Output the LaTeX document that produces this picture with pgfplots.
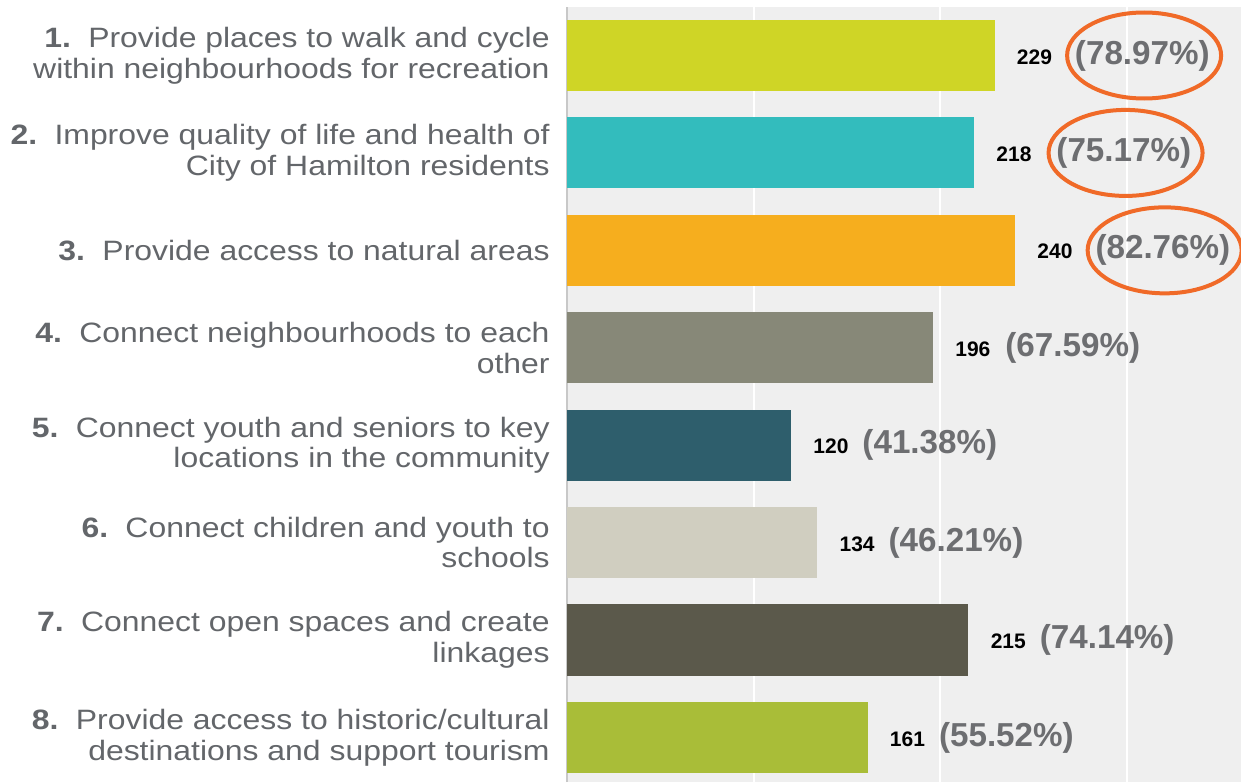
\documentclass[border=0pt]{standalone}
\usepackage{fontspec}
\setmainfont{Liberation Sans}
\newfontfamily\labfont{Liberation Sans}[FakeStretch=1.14]
\usepackage{pgfplots}
\pgfplotsset{compat=1.18}
\definecolor{bggray}{RGB}{239,239,239}
\definecolor{labelgray}{RGB}{99,102,106}
\definecolor{pctgray}{RGB}{109,110,113}
\definecolor{axisgray}{RGB}{200,200,200}
\definecolor{ring}{RGB}{240,106,40}
\definecolor{c1}{RGB}{207,213,38}
\definecolor{c2}{RGB}{51,188,189}
\definecolor{c3}{RGB}{246,174,30}
\definecolor{c4}{RGB}{135,136,120}
\definecolor{c5}{RGB}{46,94,108}
\definecolor{c6}{RGB}{208,206,192}
\definecolor{c7}{RGB}{91,89,75}
\definecolor{c8}{RGB}{169,189,56}
\newcommand{\lab}[2]{{\fontsize{10.5}{12}\selectfont\bfseries\color{black}\pgfmathprintnumber[assume math mode=true]{\pgfplotspointmeta}}\hspace{#2}{\fontsize{16.6}{18}\selectfont\bfseries\color{pctgray}(#1\%)}}
\newcommand{\num}[1]{\textbf{#1}\hspace{0.62em}}
\begin{document}
\begin{tikzpicture}
\begin{axis}[
  at={(283.5pt,0pt)}, anchor=south west,
  scale only axis, width=337pt, height=387.5pt,
  xbar, bar width=0.73, bar shift=0pt,
  xmin=0, xmax=361, ymin=0.543, ymax=8.498,
  axis background/.style={fill=bggray},
  axis line style={draw=none},
  xtick={100,200,300}, xticklabels={}, xmajorgrids,
  major grid style={draw=white, line width=1pt},
  extra x ticks={0}, extra x tick labels={},
  extra x tick style={major grid style={draw=axisgray, line width=1.2pt}},
  major tick length=0pt,
  ytick={1,...,8},
  yticklabels={
    {\num{8.}Provide access to historic/cultural\\destinations and support tourism},
    {\num{7.}Connect open spaces and create\\linkages},
    {\num{6.}Connect children and youth to\\schools},
    {\num{5.}Connect youth and seniors to key\\locations in the community},
    {\num{4.}Connect neighbourhoods to each\\other},
    {\num{3.}Provide access to natural areas},
    {\num{2.}Improve quality of life and health of\\City of Hamilton residents},
    {\num{1.}Provide places to walk and cycle\\within neighbourhoods for recreation}},
  yticklabel style={align=right, inner sep=0pt, xshift=-8.5pt, font=\labfont\fontsize{14}{15.3}\selectfont, text=labelgray},
  point meta=x,
  every node near coord/.append style={anchor=west, inner sep=0pt, xshift=11pt},
]
\addplot[fill=c1, draw=none, nodes near coords={\lab{78.97}{11.5pt}}, every node near coord/.append style={name=n1}] coordinates {(229,8)};
\addplot[fill=c2, draw=none, nodes near coords={\lab{75.17}{12.5pt}}, every node near coord/.append style={name=n2}] coordinates {(218,7)};
\addplot[fill=c3, draw=none, nodes near coords={\lab{82.76}{11.5pt}}, every node near coord/.append style={name=n3}] coordinates {(240,6)};
\addplot[fill=c4, draw=none, nodes near coords={\lab{67.59}{7.5pt}}] coordinates {(196,5)};
\addplot[fill=c5, draw=none, nodes near coords={\lab{41.38}{7pt}}] coordinates {(120,4)};
\addplot[fill=c6, draw=none, nodes near coords={\lab{46.21}{7pt}}] coordinates {(134,3)};
\addplot[fill=c7, draw=none, nodes near coords={\lab{74.14}{7pt}}] coordinates {(215,2)};
\addplot[fill=c8, draw=none, nodes near coords={\lab{55.52}{7pt}}] coordinates {(161,1)};
\end{axis}
\foreach \n in {n1,n2,n3}
  \draw[ring, line width=2pt] ([xshift=-33pt]\n.east) ellipse [x radius=38.5pt, y radius=21.5pt];
\pgfresetboundingbox
\useasboundingbox (0,0) rectangle (620.5pt,391pt);
\end{tikzpicture}
\end{document}
